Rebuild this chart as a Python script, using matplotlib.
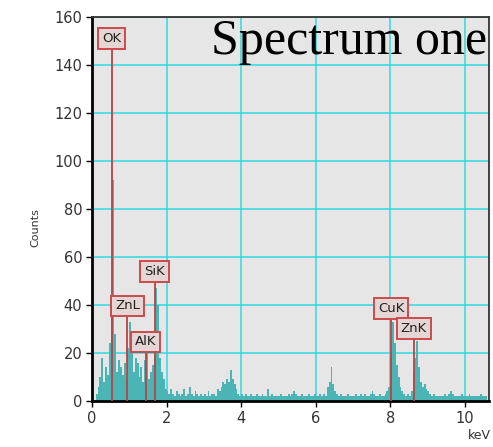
import numpy as np
import matplotlib
matplotlib.use("Agg")
import matplotlib.pyplot as plt

# EDS spectrum, 0.05 keV channels starting at 0.00 keV (one row per keV)
bin_width = 0.05
counts = [
    0, 0, 3, 6, 10, 18, 8, 14, 11, 24, 40, 92, 28, 12, 17, 14, 11, 16, 9, 22,    # 0-1
    33, 26, 12, 18, 16, 10, 14, 8, 17, 20, 9, 12, 15, 30, 47, 40, 18, 12, 9, 5,  # 1-2
    4, 3, 5, 3, 2, 4, 3, 2, 3, 5, 2, 3, 6, 3, 2, 4, 3, 2, 3, 2,                 # 2-3
    3, 2, 4, 2, 3, 3, 2, 5, 4, 6, 8, 7, 9, 8, 13, 9, 7, 5, 3, 2,                # 3-4
    3, 2, 3, 2, 2, 3, 2, 2, 3, 2, 2, 3, 2, 2, 5, 2, 3, 2, 2, 2,                 # 4-5
    2, 3, 2, 2, 2, 3, 2, 3, 4, 3, 2, 2, 3, 2, 2, 2, 3, 2, 2, 3,                 # 5-6
    2, 2, 3, 2, 3, 2, 6, 8, 14, 7, 4, 3, 2, 3, 2, 2, 2, 3, 2, 2,                # 6-7
    2, 3, 2, 2, 3, 2, 3, 2, 2, 3, 4, 3, 2, 2, 3, 2, 2, 3, 4, 6,                 # 7-8
    20, 33, 24, 15, 10, 6, 4, 3, 2, 3, 2, 4, 12, 18, 25, 14, 8, 6, 7, 5,        # 8-9
    4, 3, 2, 3, 2, 2, 2, 2, 2, 3, 2, 3, 4, 3, 2, 2, 2, 2, 3, 2,                 # 9-10
    2, 2, 3, 2, 2, 2, 2, 2, 3, 2, 2, 2,                                         # 10-10.6
]

# element line markers
marker_names = ["OK", "ZnL", "AlK", "SiK", "CuK", "ZnK"]
marker_kev = [0.53, 0.95, 1.44, 1.68, 8.02, 8.63]
marker_label_y = [151, 39.6, 24.6, 54, 38.5, 30.4]

x_ticks = [0, 2, 4, 6, 8, 10]
y_ticks = [0, 20, 40, 60, 80, 100, 120, 140, 160]

energy = np.arange(len(counts)) * bin_width

fig = plt.figure(figsize=(4.93, 4.47), dpi=100)
ax = fig.add_axes([0.1866, 0.1029, 0.8053, 0.859])
ax.set_facecolor("#e6e6e6")

ax.bar(energy, counts, width=bin_width, align="edge", color="#4bb5b5",
       linewidth=0, zorder=2)

ax.set_xlim(0, 10.65)
ax.set_ylim(0, 160)
ax.set_xticks(x_ticks)
ax.set_yticks(y_ticks)
ax.grid(True, color="#33d8e2", linewidth=1.1, zorder=1)
ax.set_axisbelow(True)

for name, kev, ly in zip(marker_names, marker_kev, marker_label_y):
    ax.vlines(kev, 0, ly, color="#b84444", linewidth=1.3, zorder=3)
    ax.text(kev, ly, name, ha="center", va="center", fontsize=9.5,
            color="#222222", zorder=4,
            bbox=dict(boxstyle="square,pad=0.3", facecolor="#e4d6d4",
                      edgecolor="#cc4a4a", linewidth=1.4))

ax.text(0.995, 0.995, "Spectrum one", transform=ax.transAxes, ha="right",
        va="top", fontsize=36, family="Liberation Serif", color="black",
        zorder=5)

for side in ("left", "bottom"):
    ax.spines[side].set_linewidth(2)
    ax.spines[side].set_color("black")
for side in ("top", "right"):
    ax.spines[side].set_linewidth(1.3)
    ax.spines[side].set_color("#333333")

ax.tick_params(axis="both", direction="out", length=4, width=1,
               labelsize=10.5, labelcolor="#333333", pad=3)

fig.text(0.072, 0.49, "Counts", rotation=90, ha="center", va="center",
         fontsize=8, color="#333333")
fig.text(0.972, 0.025, "keV", ha="center", va="center", fontsize=9,
         color="#333333")

fig.savefig("out.png", dpi=100, facecolor="white")
